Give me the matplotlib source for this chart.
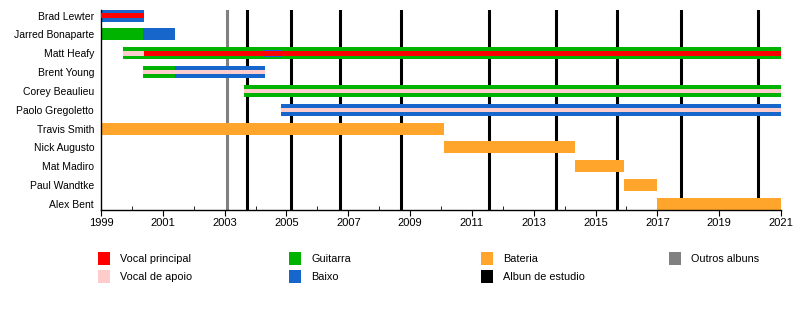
import matplotlib.pyplot as plt
from matplotlib.patches import Rectangle
import numpy as np

plt.rcParams['font.family'] = ['Liberation Sans', 'DejaVu Sans']

members = ['Brad Lewter', 'Jarred Bonaparte', 'Matt Heafy', 'Brent Young',
           'Corey Beaulieu', 'Paolo Gregoletto', 'Travis Smith', 'Nick Augusto',
           'Mat Madiro', 'Paul Wandtke', 'Alex Bent']

# instrument bars (full height)
bar_member = ['Brad Lewter', 'Jarred Bonaparte', 'Jarred Bonaparte', 'Matt Heafy',
              'Brent Young', 'Brent Young', 'Corey Beaulieu', 'Paolo Gregoletto',
              'Travis Smith', 'Nick Augusto', 'Mat Madiro', 'Paul Wandtke', 'Alex Bent']
bar_start = [1999.0, 1999.0, 2000.36, 1999.71, 2000.36, 2001.4, 2003.63, 2004.82,
             1999.0, 2010.1, 2014.34, 2015.93, 2017.0]
bar_end = [2000.39, 2000.36, 2001.4, 2021.0, 2001.4, 2004.3, 2021.0, 2021.0,
           2010.1, 2014.34, 2015.93, 2017.0, 2021.0]
bar_role = ['Baixo', 'Guitarra', 'Baixo', 'Guitarra', 'Guitarra', 'Baixo', 'Guitarra', 'Baixo',
            'Bateria', 'Bateria', 'Bateria', 'Bateria', 'Bateria']

# thin strips (vocals, plus Heafy's short spell on bass)
strip_member = ['Matt Heafy', 'Brad Lewter', 'Matt Heafy', 'Matt Heafy',
                'Brent Young', 'Corey Beaulieu', 'Paolo Gregoletto']
strip_start = [2004.27, 1999.0, 1999.71, 2000.39, 2000.36, 2003.63, 2004.82]
strip_end = [2004.82, 2000.39, 2000.39, 2021.0, 2004.3, 2021.0, 2021.0]
strip_role = ['Baixo', 'Vocal principal', 'Vocal de apoio', 'Vocal principal',
              'Vocal de apoio', 'Vocal de apoio', 'Vocal de apoio']

studio_albums = [2003.72, 2005.15, 2006.73, 2008.7, 2011.56, 2013.72, 2015.7, 2017.77, 2020.26]
other_albums = [2003.08]

colors = {
    'Vocal principal': '#FF0000',
    'Vocal de apoio': '#FFCCCC',
    'Guitarra': '#00B300',
    'Baixo': '#1666CC',
    'Bateria': '#FFA52C',
    'Albun de estudio': '#000000',
    'Outros albuns': '#808080',
}
legend_cols = [['Vocal principal', 'Vocal de apoio'], ['Guitarra', 'Baixo'],
               ['Bateria', 'Albun de estudio'], ['Outros albuns']]

fig = plt.figure(figsize=(8, 3.1), dpi=100)
ax = fig.add_axes([0.12625, 0.3226, 0.85, 0.6452])

ypos = {m: i for i, m in enumerate(members)}

for m, s, e, r in zip(bar_member, bar_start, bar_end, bar_role):
    ax.barh(ypos[m], e - s, left=s, height=0.64, color=colors[r], linewidth=0, zorder=2)

for m, s, e, r in zip(strip_member, strip_start, strip_end, strip_role):
    h = 0.38 if r == 'Baixo' else 0.24
    ax.barh(ypos[m], e - s, left=s, height=h, color=colors[r], linewidth=0, zorder=3)

for x in studio_albums:
    ax.axvline(x, color=colors['Albun de estudio'], lw=2.2, zorder=1)
for x in other_albums:
    ax.axvline(x, color=colors['Outros albuns'], lw=2.2, zorder=1)

ax.set_xlim(1999, 2021)
ax.set_ylim(10.32, -0.3)
ax.set_yticks(range(len(members)))
ax.set_yticklabels(members, fontsize=7.5)
ax.tick_params(axis='y', length=0, pad=5)
ax.set_xticks(np.arange(1999, 2022, 2))
ax.set_xticks(np.arange(2000, 2021, 2), minor=True)
ax.tick_params(axis='x', which='major', direction='out', length=4, labelsize=8, pad=2)
ax.tick_params(axis='x', which='minor', direction='in', length=3)
for sp in ['top', 'right']:
    ax.spines[sp].set_visible(False)
ax.spines['left'].set_linewidth(1)
ax.spines['bottom'].set_linewidth(1)

# legend
col_x = [98, 289, 481, 669]
row_y = [252, 270]
for cx, labels in zip(col_x, legend_cols):
    for ry, lab in zip(row_y, labels):
        fig.add_artist(Rectangle((cx / 800, 1 - (ry + 13) / 310), 12 / 800, 13 / 310,
                                 transform=fig.transFigure, color=colors[lab], lw=0))
        fig.text((cx + 22) / 800, 1 - (ry + 6.5) / 310, lab, fontsize=7.8, va='center', ha='left')

fig.savefig('out.png', dpi=100)
